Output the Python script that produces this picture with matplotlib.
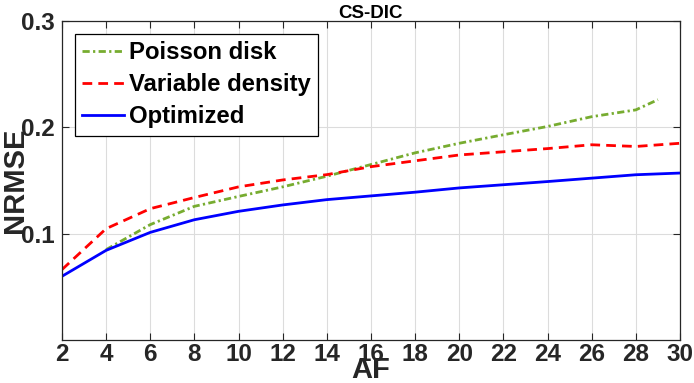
import matplotlib
matplotlib.use("Agg")
import matplotlib.pyplot as plt

plt.rcParams['font.family'] = ['Liberation Sans', 'DejaVu Sans']
plt.rcParams['font.weight'] = 'bold'

# values
af_poisson = [4, 6, 8, 10, 12, 14, 16, 18, 20, 22, 24, 26, 28, 29]
nrmse_poisson = [0.085, 0.1085, 0.1257, 0.135, 0.144, 0.154, 0.165, 0.176,
                 0.185, 0.193, 0.2008, 0.210, 0.2164, 0.226]

af = [2, 4, 6, 8, 10, 12, 14, 16, 18, 20, 22, 24, 26, 28, 30]
nrmse_vd = [0.0662, 0.1047, 0.1235, 0.1340, 0.1440, 0.1505, 0.1555, 0.1630,
            0.1685, 0.1740, 0.1770, 0.1800, 0.1836, 0.1820, 0.1850]
nrmse_opt = [0.0599, 0.0843, 0.1012, 0.1131, 0.1210, 0.1270, 0.1320, 0.1355,
             0.1390, 0.1430, 0.1460, 0.1490, 0.1522, 0.1554, 0.1570]

xticks = list(range(2, 31, 2))
yticks = [0.1, 0.2, 0.3]

fig = plt.figure(figsize=(6.94, 3.83), dpi=100)
ax = fig.add_axes([0.0893, 0.1123, 0.8905, 0.8329])

ax.plot(af_poisson, nrmse_poisson, color=(0.466, 0.674, 0.188), lw=2,
        linestyle=(0, (2.6, 1.2, 0.8, 1.2)), label='Poisson disk')
ax.plot(af, nrmse_vd, color='red', lw=2, linestyle=(0, (3.5, 2.2)),
        label='Variable density')
ax.plot(af, nrmse_opt, color='blue', lw=2, label='Optimized')

ax.set_xlim(2, 30)
ax.set_ylim(0, 0.3)
ax.set_xticks(xticks)
ax.set_yticks(yticks)
ax.set_yticklabels(['0.1', '0.2', '0.3'])
ax.grid(True, color='#dcdcdc', lw=0.8)
ax.set_axisbelow(True)
ax.tick_params(direction='in', length=5, width=0.8, top=True, right=True,
               labelsize=17.5, colors='#262626')
ax.tick_params(axis='x', pad=2)
ax.tick_params(axis='y', pad=5)
for s in ax.spines.values():
    s.set_color('#262626')
    s.set_linewidth(0.9)

ax.set_title('CS-DIC', fontsize=13.5, fontweight='bold', pad=2)
ax.set_xlabel('AF', fontsize=21, fontweight='bold', color='#262626')
ax.xaxis.set_label_coords(0.5, -0.05)
ax.set_ylabel('NRMSE', fontsize=21, fontweight='bold', color='#262626')
ax.yaxis.set_label_coords(-0.053, 0.5)

leg = ax.legend(loc='upper left', bbox_to_anchor=(0.021, 0.959),
                borderaxespad=0, fontsize=17.2, fancybox=False,
                edgecolor='black', framealpha=1, handlelength=1.75,
                handletextpad=0.2, labelspacing=0.38, borderpad=0.3)
leg.get_frame().set_linewidth(0.9)

fig.savefig('out.png', dpi=100)
